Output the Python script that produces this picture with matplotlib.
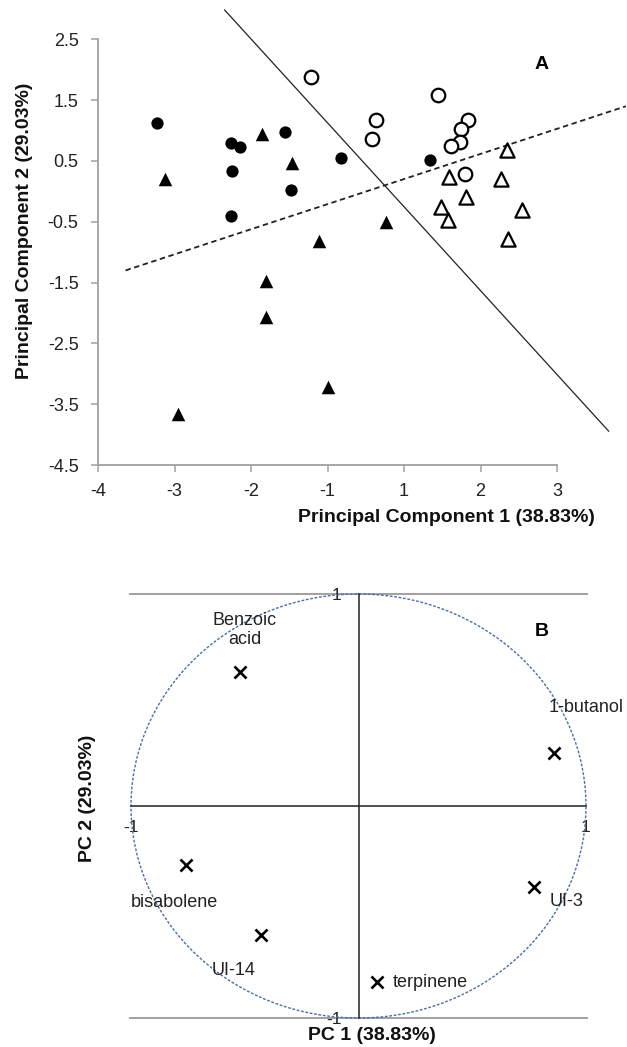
import matplotlib
matplotlib.use("Agg")
import matplotlib.pyplot as plt
import numpy as np

plt.rcParams['font.family'] = ['Liberation Sans', 'DejaVu Sans']

# ---------------- Panel A data (x in axis-position units; axis labels skip 0) -------------
fc_x = [-3.23, -2.26, -2.14, -2.25, -2.26, -1.56, -1.48, -0.82, 0.34]
fc_y = [1.12, 0.80, 0.73, 0.34, -0.41, 0.98, 0.02, 0.55, 0.51]

ft_x = [-3.12, -1.85, -1.46, -1.11, -0.24, -1.81, -1.81, -0.99, -2.95]
ft_y = [0.21, 0.95, 0.46, -0.81, -0.51, -1.47, -2.07, -3.21, -3.66]

oc_x = [-1.21, -0.36, -0.42, 0.44, 0.84, 0.74, 0.73, 0.61, 0.80]
oc_y = [1.88, 1.17, 0.86, 1.58, 1.18, 1.02, 0.81, 0.75, 0.29]

ot_x = [1.35, 0.59, 1.27, 0.81, 0.49, 0.58, 1.54, 1.36]
ot_y = [0.68, 0.24, 0.20, -0.09, -0.26, -0.47, -0.30, -0.78]

solid_x = [-2.35, 2.68]
solid_y = [2.99, -3.95]
dash_x = [-3.64, 2.90]
dash_y = [-1.30, 1.40]

xtick_pos = [-4, -3, -2, -1, 0, 1, 2]
xtick_lab = ['-4', '-3', '-2', '-1', '1', '2', '3']
ytick_pos = [2.5, 1.5, 0.5, -0.5, -1.5, -2.5, -3.5, -4.5]
ytick_lab = ['2.5', '1.5', '0.5', '-0.5', '-1.5', '-2.5', '-3.5', '-4.5']

# ---------------- Panel B data -------------
var_names = ['Benzoic acid', '1-butanol', 'bisabolene', 'UI-3', 'UI-14', 'terpinene']
var_x = [-0.52, 0.86, -0.76, 0.77, -0.43, 0.08]
var_y = [0.63, 0.25, -0.28, -0.38, -0.61, -0.83]
lab_text = ['Benzoic\nacid', '1-butanol', 'bisabolene', 'UI-3', 'UI-14', 'terpinene']
lab_x = [-0.50, 0.835, -0.81, 0.842, -0.55, 0.150]
lab_y = [0.83, 0.466, -0.455, -0.449, -0.776, -0.834]
lab_ha = ['center', 'left', 'center', 'left', 'center', 'left']

W, H = 627, 1047
fig = plt.figure(figsize=(W / 100, H / 100), dpi=100)

def fx(p):
    return p / W

def fy(p):
    return 1 - p / H

# ---------- Panel A ----------
axA = fig.add_axes([fx(98), fy(465), (W - 98) / W, (465 - 8) / H])
axA.set_xlim(-4, -4 + (W - 98) / 76.5)
axA.set_ylim(-4.5, 2.5 + (39.3 - 8) / 60.7)

axA.plot(solid_x, solid_y, color='#222222', lw=0.9, solid_capstyle='butt')
axA.plot(dash_x, dash_y, color='#222222', lw=1.3, linestyle=(0, (3.0, 2.0)))

axA.scatter(fc_x, fc_y, s=78, marker='o', color='black', zorder=3, linewidths=0)
axA.scatter(ft_x, ft_y, s=95, marker='^', color='black', zorder=3, linewidths=0)
axA.scatter(oc_x, oc_y, s=95, marker='o', facecolors='white', edgecolors='black',
            linewidths=1.6, zorder=3)
axA.scatter(ot_x, ot_y, s=105, marker='^', facecolors='white', edgecolors='black',
            linewidths=1.6, zorder=3)

for s in ['top', 'right']:
    axA.spines[s].set_visible(False)
axA.spines['left'].set_bounds(-4.5, 2.5)
axA.spines['bottom'].set_bounds(-4, 2)
for s in ['left', 'bottom']:
    axA.spines[s].set_color('#a0a0a0')
    axA.spines[s].set_linewidth(1.3)
axA.set_xticks(xtick_pos)
axA.set_xticklabels(xtick_lab)
axA.set_yticks(ytick_pos)
axA.set_yticklabels(ytick_lab)
axA.tick_params(axis='both', direction='out', length=5, width=1.1, color='#a0a0a0',
                labelsize=13, labelcolor='#222222')
axA.tick_params(axis='x', pad=8)
axA.tick_params(axis='y', pad=9)
axA.patch.set_visible(False)

axA.text(1.80, 2.08, 'A', fontsize=14, fontweight='bold', ha='center', va='center')

fig.text(fx(446), fy(518), 'Principal Component 1 (38.83%)', fontsize=14,
         fontweight='bold', ha='center', va='center', color='#111111')
fig.text(fx(25), fy(231), 'Principal Component 2 (29.03%)', fontsize=14,
         fontweight='bold', ha='center', va='center', rotation=90, color='#111111')

# ---------- Panel B ----------
axB = fig.add_axes([fx(131), fy(1018), (586 - 131) / W, (1018 - 594) / H])
axB.set_xlim(-1, 1)
axB.set_ylim(-1, 1)
axB.patch.set_visible(False)

for s in ['top', 'right']:
    axB.spines[s].set_visible(False)
axB.spines['left'].set_position(('data', 0))
axB.spines['bottom'].set_position(('data', 0))
for s in ['left', 'bottom']:
    axB.spines[s].set_color('#222222')
    axB.spines[s].set_linewidth(1.1)

axB.plot([-1.005, 1.005], [1, 1], color='#a0a0a0', lw=1.4, clip_on=False, zorder=1)
axB.plot([-1.005, 1.005], [-1, -1], color='#a0a0a0', lw=1.4, clip_on=False, zorder=1)

theta = np.linspace(0, 2 * np.pi, 400)
axB.plot(np.cos(theta), np.sin(theta), color='#4a6fa5', lw=1.0,
         linestyle=(0, (2.0, 1.2)), clip_on=False, zorder=2)

axB.set_xticks([-1, 1])
axB.set_xticklabels(['-1', '1'])
axB.set_yticks([-1, 1])
axB.set_yticklabels(['-1', '1'])
axB.tick_params(axis='both', length=0, labelsize=12.5, labelcolor='#222222')
axB.tick_params(axis='x', pad=10)
axB.tick_params(axis='y', pad=12)

axB.scatter(var_x, var_y, s=75, marker='x', color='black', linewidths=1.9,
            zorder=4, clip_on=False)
for t, x, y, ha in zip(lab_text, lab_x, lab_y, lab_ha):
    axB.text(x, y, t, fontsize=13, ha=ha, va='center', color='#222222',
             linespacing=1.15, clip_on=False, zorder=5)

axB.text(0.804, 0.825, 'B', fontsize=14, fontweight='bold', ha='center', va='center')

fig.text(fx(372), fy(1036), 'PC 1 (38.83%)', fontsize=14, fontweight='bold',
         ha='center', va='center', color='#111111')
fig.text(fx(87), fy(798), 'PC 2 (29.03%)', fontsize=14, fontweight='bold',
         ha='center', va='center', rotation=90, color='#111111')

fig.savefig('out.png', dpi=100)
